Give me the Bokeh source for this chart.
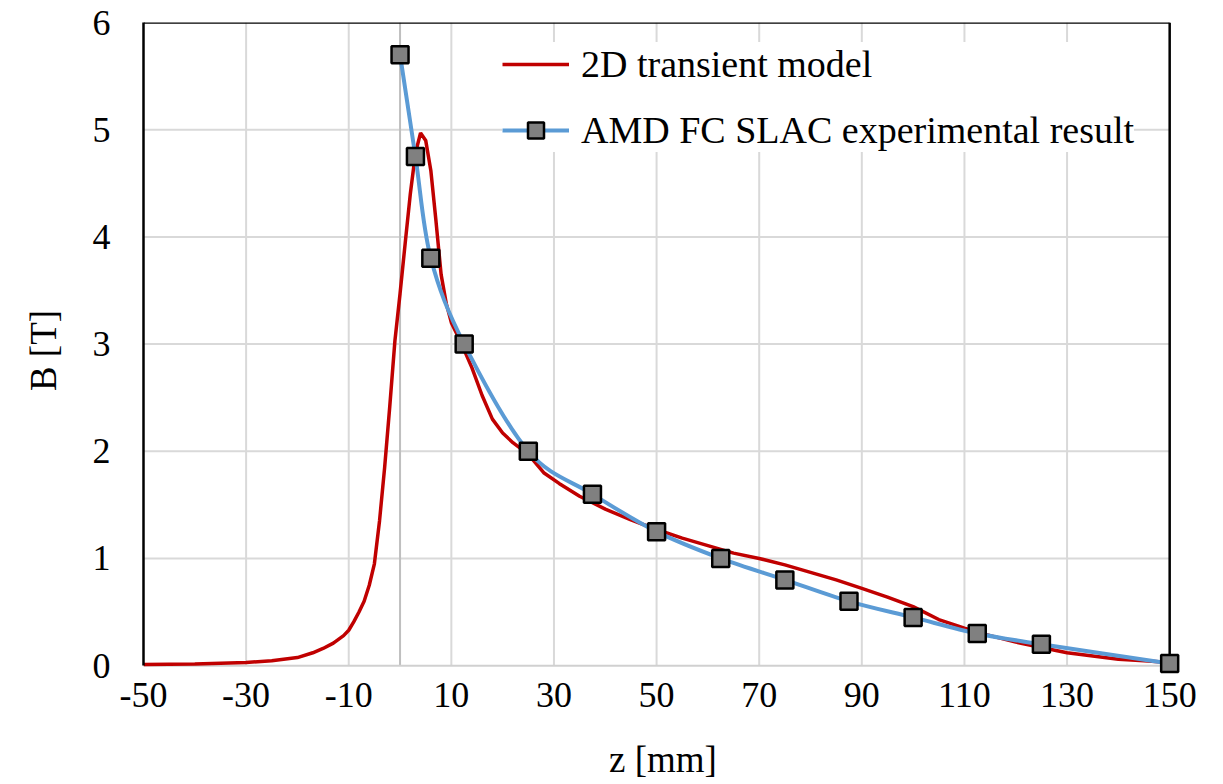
from bokeh.plotting import figure
from bokeh.models import Range1d, FixedTicker, Legend, LegendItem, ColumnDataSource, CustomJSTickFormatter
from bokeh.embed import file_html
from bokeh.resources import INLINE

# ---- data ----
model_z = [-50, -40, -30, -25, -20, -17, -15, -13, -11, -10, -9, -8, -7, -6, -5, -4, -3, -2, -1,
           0, 1, 2, 3, 4, 5, 6, 7, 8, 9, 10, 11, 12, 14, 16, 18, 20, 22, 25, 28, 31, 35, 40, 45,
           50, 55, 60, 65, 70, 75, 80, 85, 90, 95, 100, 105, 110, 115, 120, 125, 130, 135, 140, 145, 150]
model_b = [0.01, 0.015, 0.03, 0.045, 0.075, 0.12, 0.16, 0.21, 0.28, 0.33, 0.41, 0.5, 0.6, 0.75, 0.95, 1.35, 1.85, 2.42, 3.03,
           3.47, 3.94, 4.4, 4.78, 4.97, 4.9, 4.62, 4.15, 3.65, 3.38, 3.2, 3.1, 3.0, 2.78, 2.52, 2.3, 2.17, 2.08, 1.97, 1.8, 1.7, 1.58, 1.46, 1.36,
           1.27, 1.19, 1.12, 1.05, 1.0, 0.94, 0.87, 0.8, 0.72, 0.64, 0.55, 0.43, 0.35, 0.28, 0.22, 0.17, 0.12, 0.09, 0.06, 0.045, 0.03]

exp_z = [0, 3, 6, 12.5, 25, 37.5, 50, 62.5, 75, 87.5, 100, 112.5, 125, 150]
exp_b = [5.7, 4.75, 3.8, 3.0, 2.0, 1.6, 1.25, 1.0, 0.8, 0.6, 0.45, 0.3, 0.2, 0.02]

x_ticks = [-50, -30, -10, 10, 30, 50, 70, 90, 110, 130, 150]
y_ticks = [0, 1, 2, 3, 4, 5, 6]

X_MIN, X_MAX = -50, 150
Y_MIN, Y_MAX = 0, 6

FONT = "Liberation Serif"

# ranges are padded a little so the end markers are not clipped by the frame
p = figure(width=1223, height=784, output_backend="svg", toolbar_location=None,
           x_range=Range1d(X_MIN, X_MAX + 2.5), y_range=Range1d(Y_MIN - 0.12, Y_MAX),
           min_border_left=143, min_border_right=41, min_border_top=22, min_border_bottom=106)
p.outline_line_color = None
p.background_fill_color = "white"
p.xgrid.visible = False
p.ygrid.visible = False

fmt = CustomJSTickFormatter(code="return String(tick);")
p.xaxis.ticker = FixedTicker(ticks=x_ticks)
p.yaxis.ticker = FixedTicker(ticks=y_ticks)
p.xaxis.formatter = fmt
p.yaxis.formatter = fmt
for ax in (p.xaxis[0], p.yaxis[0]):
    ax.major_tick_out = 0
    ax.major_tick_in = 0
    ax.minor_tick_out = 0
    ax.minor_tick_in = 0
    ax.major_label_text_font = FONT
    ax.major_label_text_font_size = "36px"
    ax.major_label_text_color = "black"
    ax.axis_label_text_font = FONT
    ax.axis_label_text_font_size = "37px"
    ax.axis_label_text_font_style = "normal"
    ax.axis_label_text_color = "black"
p.xaxis.axis_label = "z [mm]"
p.yaxis.axis_label = "B [T]"
p.xaxis.axis_line_color = None
p.yaxis.axis_line_color = "black"
p.yaxis.axis_line_width = 2.5
p.yaxis.bounds = (Y_MIN, Y_MAX)
p.xaxis.major_label_standoff = 4
p.yaxis.major_label_standoff = 33
p.xaxis.axis_label_standoff = 29
p.yaxis.axis_label_standoff = 26

# grid lines (drawn at the tick positions, limited to the plot box)
gx = [t for t in x_ticks if X_MIN < t < X_MAX]
gy = [t for t in y_ticks if Y_MIN < t < Y_MAX]
p.segment(x0=gx, y0=[Y_MIN] * len(gx), x1=gx, y1=[Y_MAX] * len(gx), line_color="#d9d9d9", line_width=2)
p.segment(x0=[X_MIN] * len(gy), y0=gy, x1=[X_MAX] * len(gy), y1=gy, line_color="#d9d9d9", line_width=2)
# zero axes and box borders
p.segment(x0=[0], y0=[Y_MIN], x1=[0], y1=[Y_MAX], line_color="#bfbfbf", line_width=2)
p.segment(x0=[X_MIN], y0=[0], x1=[X_MAX], y1=[0], line_color="#d0d0d0", line_width=2)
p.segment(x0=[X_MIN], y0=[Y_MAX], x1=[X_MAX], y1=[Y_MAX], line_color="black", line_width=2.5)
p.segment(x0=[X_MAX], y0=[Y_MIN], x1=[X_MAX], y1=[Y_MAX], line_color="black", line_width=2.5)

# model line
r_model = p.line(model_z, model_b, line_color="#C00000", line_width=3.5)

# experimental smoothed line (bezier segments through the data points)
n = len(exp_z)
x0, y0, x1, y1, cx0, cy0, cx1, cy1 = [], [], [], [], [], [], [], []
for i in range(n - 1):
    a = i - 1 if i > 0 else i
    d = i + 2 if i + 2 < n else i + 1
    x0.append(exp_z[i]); y0.append(exp_b[i])
    x1.append(exp_z[i + 1]); y1.append(exp_b[i + 1])
    cx0.append(exp_z[i] + (exp_z[i + 1] - exp_z[a]) / 6.0)
    cy0.append(exp_b[i] + (exp_b[i + 1] - exp_b[a]) / 6.0)
    cx1.append(exp_z[i + 1] - (exp_z[d] - exp_z[i]) / 6.0)
    cy1.append(exp_b[i + 1] - (exp_b[d] - exp_b[i]) / 6.0)
bsrc = ColumnDataSource(dict(x0=x0, y0=y0, x1=x1, y1=y1, cx0=cx0, cy0=cy0, cx1=cx1, cy1=cy1))
r_exp_line = p.bezier(x0="x0", y0="y0", x1="x1", y1="y1", cx0="cx0", cy0="cy0", cx1="cx1", cy1="cy1",
                      source=bsrc, line_color="#5B9BD5", line_width=4)
r_exp_pts = p.scatter(exp_z, exp_b, marker="square", size=17, fill_color="#808080",
                      line_color="black", line_width=2.5)

legend = Legend(items=[
    LegendItem(label="2D transient model", renderers=[r_model]),
    LegendItem(label="AMD FC SLAC experimental result", renderers=[r_exp_line, r_exp_pts]),
], location=(359, 526))
legend.background_fill_color = "white"
legend.background_fill_alpha = 1.0
legend.border_line_color = None
legend.label_text_font = FONT
legend.label_text_font_size = "38px"
legend.label_text_color = "black"
legend.glyph_width = 67
legend.glyph_height = 40
legend.label_height = 40
legend.spacing = 22
legend.padding = 10
legend.margin = 0
legend.label_standoff = 12
p.add_layout(legend, "center")

open("out.html", "w").write(file_html(p, INLINE))
